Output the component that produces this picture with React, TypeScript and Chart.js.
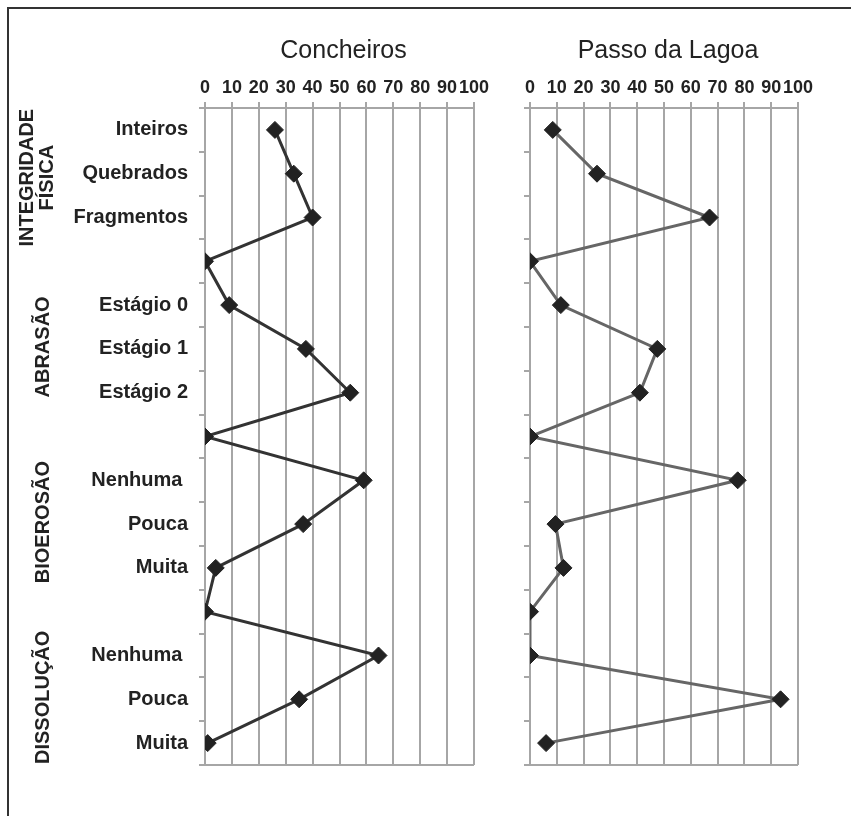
import React, { useEffect, useRef } from 'react';
import { Chart, registerables } from 'chart.js';

Chart.register(...registerables);

// ---- data ----
const categories = [
  'Inteiros', 'Quebrados', 'Fragmentos', '',
  'Estágio 0', 'Estágio 1', 'Estágio 2', '',
  'Nenhuma ', 'Pouca', 'Muita', '',
  'Nenhuma ', 'Pouca', 'Muita',
];
const concheirosValues = [26, 33, 40, 0, 9, 37.5, 54, 0, 59, 36.5, 4, 0, 64.5, 35, 1];
const passoValues = [8.5, 25, 67, 0, 11.5, 47.5, 41, 0, 77.5, 9.5, 12.5, 0, 0, 93.5, 6];
const panelTitles = ['Concheiros', 'Passo da Lagoa'];
const groupLabels = [['INTEGRIDADE', 'FÍSICA'], ['ABRASÃO'], ['BIOEROSÃO'], ['DISSOLUÇÃO']];
const groupCenterRows = [1, 5, 9, 13];
const xMin = 0;
const xMax = 100;
const xStep = 10;

const FONT = '"Liberation Sans", Arial, sans-serif';
const GRID = '#a6a6a6';

function makeChart(
  canvas: HTMLCanvasElement,
  values: number[],
  lineColor: string,
  title: string,
  showLabels: boolean,
  axisWidth: number,
  padRight: number,
) {
  const titlePlugin = {
    id: 'panelDecor',
    afterDraw(chart: any) {
      const { ctx, chartArea } = chart;
      ctx.save();
      // bottom border
      ctx.strokeStyle = GRID;
      ctx.lineWidth = 2;
      ctx.beginPath();
      ctx.moveTo(chartArea.left, chartArea.bottom);
      ctx.lineTo(chartArea.right, chartArea.bottom);
      ctx.stroke();
      // title
      ctx.fillStyle = '#222';
      ctx.font = `25px ${FONT}`;
      ctx.textAlign = 'center';
      ctx.textBaseline = 'alphabetic';
      ctx.fillText(title, (chartArea.left + chartArea.right) / 2 + 4, 58);
      if (showLabels) {
        const yScale = chart.scales.y;
        ctx.font = `bold 20px ${FONT}`;
        ctx.textBaseline = 'middle';
        groupLabels.forEach((lines, gi) => {
          const cy = yScale.getPixelForValue(groupCenterRows[gi]) + (gi === 0 ? 4 : -2);
          const xs = lines.length === 2 ? [27, 47] : [43];
          lines.forEach((txt, li) => {
            ctx.save();
            ctx.translate(xs[li], cy);
            ctx.rotate(-Math.PI / 2);
            ctx.fillText(txt, 0, 0);
            ctx.restore();
          });
        });
      }
      ctx.restore();
    },
  };

  return new Chart(canvas, {
    type: 'line',
    data: {
      labels: categories,
      datasets: [
        {
          data: values,
          borderColor: lineColor,
          borderWidth: 3,
          pointStyle: 'rectRot',
          pointRadius: 8.5,
          pointHoverRadius: 8.5,
          pointBackgroundColor: '#222',
          pointBorderColor: '#222',
          pointBorderWidth: 1,
          tension: 0,
        },
      ],
    },
    options: {
      indexAxis: 'y',
      responsive: false,
      animation: false,
      events: [],
      layout: { padding: { left: 0, top: 0, right: padRight, bottom: 51 } },
      plugins: {
        legend: { display: false },
        tooltip: { enabled: false },
        title: { display: false },
      },
      scales: {
        x: {
          type: 'linear',
          position: 'top',
          min: xMin,
          max: xMax,
          ticks: {
            stepSize: xStep,
            autoSkip: false,
            maxRotation: 0,
            padding: 3,
            color: '#222',
            font: { family: FONT, size: 18, weight: 'bold' },
          },
          grid: { color: GRID, lineWidth: 2, drawTicks: true, tickLength: 6 },
          border: { display: true, color: GRID, width: 2 },
          afterFit(scale: any) {
            scale.height = 108;
          },
        },
        y: {
          type: 'category',
          offset: true,
          ticks: {
            display: showLabels,
            autoSkip: false,
            padding: 11,
            color: '#222',
            font: { family: FONT, size: 20, weight: 'bold' },
          },
          grid: { offset: true, drawOnChartArea: false, drawTicks: true, tickLength: 6, color: GRID, lineWidth: 2 },
          border: { display: true, color: GRID, width: 2 },
          afterFit(scale: any) {
            scale.width = axisWidth;
          },
        },
      },
    },
    plugins: [titlePlugin],
  } as any);
}

export default function App() {
  const leftRef = useRef<HTMLCanvasElement>(null);
  const rightRef = useRef<HTMLCanvasElement>(null);

  useEffect(() => {
    const c1 = makeChart(leftRef.current!, concheirosValues, '#333', panelTitles[0], true, 205, 26);
    const c2 = makeChart(rightRef.current!, passoValues, '#666', panelTitles[1], false, 30, 53);
    return () => {
      c1.destroy();
      c2.destroy();
    };
  }, []);

  return (
    <div style={{ position: 'fixed', left: 0, top: 0, width: 851, height: 816, background: '#fff', overflow: 'hidden' }}>
      <div
        style={{
          position: 'absolute',
          left: 7,
          top: 7,
          width: 900,
          height: 900,
          borderTop: '2px solid #333',
          borderLeft: '2px solid #333',
        }}
      />
      <canvas ref={leftRef} width={500} height={816} style={{ position: 'absolute', left: 0, top: 0 }} />
      <canvas ref={rightRef} width={351} height={816} style={{ position: 'absolute', left: 500, top: 0 }} />
    </div>
  );
}
